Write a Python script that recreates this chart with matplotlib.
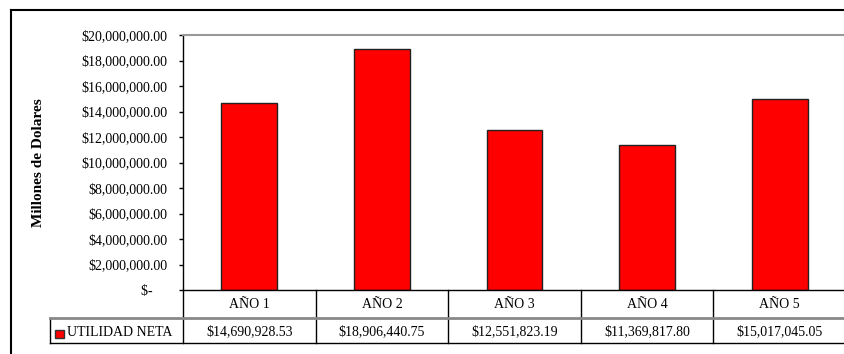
import matplotlib.pyplot as plt
import matplotlib.ticker as ticker
from matplotlib.lines import Line2D
from matplotlib.patches import Rectangle

plt.rcParams['font.family'] = ['Liberation Serif', 'DejaVu Serif']
plt.rcParams['font.size'] = 10

anios = ['AÑO 1', 'AÑO 2', 'AÑO 3', 'AÑO 4', 'AÑO 5']
utilidad_neta = [14690928.53, 18906440.75, 12551823.19, 11369817.80, 15017045.05]
serie = 'UTILIDAD NETA'

W, H = 845, 354
fig = plt.figure(figsize=(W / 100, H / 100), dpi=100)

# area del grafico en pixeles (izq, der, arriba, abajo)
x0, x1, y_top, y_bot = 183, 846, 35, 290
ax = fig.add_axes([x0 / W, (H - y_bot) / H, (x1 - x0) / W, (y_bot - y_top) / H])

x = list(range(len(anios)))
ax.bar(x, utilidad_neta, width=0.42, color='#ff0000', edgecolor='#222222', linewidth=1)

ax.set_xlim(-0.5, len(anios) - 0.5)
ax.set_ylim(0, 20000000)
ax.yaxis.set_major_locator(ticker.MultipleLocator(2000000))


def fmt_dinero(v, pos):
    if v == 0:
        return '$-    '
    return '${:,.2f}'.format(v)


ax.yaxis.set_major_formatter(ticker.FuncFormatter(fmt_dinero))
ax.tick_params(axis='y', length=3, width=1, pad=8.5, colors='black')
ax.set_xticks([])

for side in ['top', 'right']:
    ax.spines[side].set_color('#999999')
    ax.spines[side].set_linewidth(1.5)
ax.spines['left'].set_linewidth(1)
ax.spines['bottom'].set_linewidth(1)

ax.set_ylabel('Millones de Dolares', fontweight='bold', fontsize=11, labelpad=0)
ax.yaxis.set_label_coords((45 - x0) / (x1 - x0), 0.5)

# tabla de datos debajo del grafico
ah = y_bot - y_top
fila1 = -(318 - y_bot) / ah
fila2 = -(343 - y_bot) / ah
tr = ax.get_xaxis_transform()
leg_x = -0.5 - (x0 - 50) / ((x1 - x0) / len(anios))
centro2 = (fila1 + fila2) / 2 - 1.5 / ah

for i, (a, v) in enumerate(zip(anios, utilidad_neta)):
    ax.text(i, fila1 / 2, a, transform=tr, ha='center', va='center', clip_on=False)
    ax.text(i, centro2, '${:,.2f}'.format(v), transform=tr,
            ha='center', va='center', clip_on=False)
    ax.add_line(Line2D([i + 0.5, i + 0.5], [0, fila2], transform=tr, color='black',
                       linewidth=1, clip_on=False))

ax.add_line(Line2D([-0.5, -0.5], [0, fila2], transform=tr, color='black',
                   linewidth=1, clip_on=False))
ax.add_line(Line2D([leg_x, leg_x], [fila1, fila2], transform=tr, color='black',
                   linewidth=1, clip_on=False))
ax.add_line(Line2D([leg_x, len(anios)], [fila1, fila1], transform=tr, color='#888888',
                   linewidth=2, clip_on=False))
ax.add_line(Line2D([leg_x, len(anios)], [fila2, fila2], transform=tr, color='black',
                   linewidth=1, clip_on=False))

# clave de la serie en la tabla
fig.add_artist(Rectangle((55 / W, (H - 338) / H), 8.5 / W, 8.5 / H, facecolor='#ff0000',
                         edgecolor='#333333', linewidth=1, transform=fig.transFigure))
fig.text(67 / W, (H - 332) / H, serie, ha='left', va='center')

# marco exterior
fig.add_artist(Line2D([11 / W, 11 / W], [0, (H - 10) / H], color='black', linewidth=1.5,
                      transform=fig.transFigure))
fig.add_artist(Line2D([11 / W, 1], [(H - 10) / H, (H - 10) / H], color='black',
                      linewidth=1.5, transform=fig.transFigure))

fig.savefig('out.png', dpi=100)
